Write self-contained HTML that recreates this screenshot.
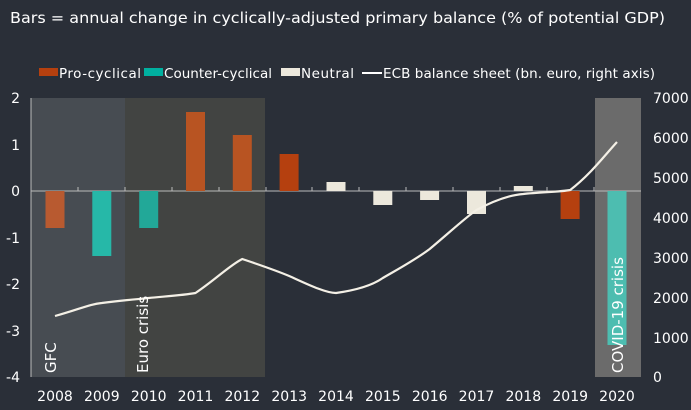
<!DOCTYPE html>
<html><head><meta charset="utf-8"><style>
html,body{margin:0;padding:0;background:#2a2f38;}
svg{display:block;font-family:"DejaVu Sans","Liberation Sans",sans-serif;}
</style></head><body>
<svg width="691" height="410" viewBox="0 0 691 410" xmlns="http://www.w3.org/2000/svg">
<rect width="691" height="410" fill="#2a2f38"/>
<text x="10" y="23" fill="#fff" font-size="15.5" textLength="655" lengthAdjust="spacingAndGlyphs">Bars = annual change in cyclically-adjusted primary balance (% of potential GDP)</text>
<!-- legend -->
<rect x="39" y="68" width="19" height="8" fill="#b5400f"/>
<text x="59" y="78" fill="#fff" font-size="13.5" textLength="82">Pro-cyclical</text>
<rect x="144" y="68" width="19" height="8" fill="#00b0a0"/>
<text x="164" y="78" fill="#fff" font-size="13.5" textLength="108">Counter-cyclical</text>
<rect x="281" y="68" width="19" height="8" fill="#ece8dc"/>
<text x="301" y="78" fill="#fff" font-size="13.5" textLength="53">Neutral</text>
<line x1="362" y1="73" x2="382" y2="73" stroke="#fff" stroke-width="2"/>
<text x="383" y="78" fill="#fff" font-size="13.5" textLength="272">ECB balance sheet (bn. euro, right axis)</text>
<!-- shaded regions -->
<rect x="31" y="98" width="94" height="279" fill="#474c52"/>
<rect x="125" y="98" width="140" height="279" fill="#424442"/>
<rect x="595" y="98" width="46" height="279" fill="#6b6b6b"/>
<!-- zero axis -->
<line x1="31" y1="191" x2="641" y2="191" stroke="#bbb" stroke-width="1"/>
<g stroke="#bbb" stroke-width="1">
<line x1="78" y1="187" x2="78" y2="191"/><line x1="125" y1="187" x2="125" y2="191"/>
<line x1="172" y1="187" x2="172" y2="191"/><line x1="219" y1="187" x2="219" y2="191"/>
<line x1="266" y1="187" x2="266" y2="191"/><line x1="312" y1="187" x2="312" y2="191"/>
<line x1="359" y1="187" x2="359" y2="191"/><line x1="406" y1="187" x2="406" y2="191"/>
<line x1="453" y1="187" x2="453" y2="191"/><line x1="500" y1="187" x2="500" y2="191"/>
<line x1="547" y1="187" x2="547" y2="191"/><line x1="594" y1="187" x2="594" y2="191"/>
</g>
<line x1="31" y1="98" x2="31" y2="377" stroke="#bbb" stroke-width="1"/>
<!-- bars -->
<rect x="45.5" y="191" width="19" height="37" fill="#b85a30"/>
<rect x="92.3" y="191" width="19" height="65" fill="#26b8a8"/>
<rect x="139.2" y="191" width="19" height="37" fill="#22a898"/>
<rect x="186" y="112" width="19" height="79" fill="#b85422"/>
<rect x="232.8" y="135" width="19" height="56" fill="#b85422"/>
<rect x="279.6" y="154" width="19" height="37" fill="#b5400f"/>
<rect x="326.5" y="182" width="19" height="9" fill="#ece8dc"/>
<rect x="373.3" y="191" width="19" height="14" fill="#ece8dc"/>
<rect x="420.1" y="191" width="19" height="9" fill="#ece8dc"/>
<rect x="467" y="191" width="19" height="23" fill="#ece8dc"/>
<rect x="513.8" y="186" width="19" height="5" fill="#ece8dc"/>
<rect x="560.6" y="191" width="19" height="28" fill="#b5400f"/>
<rect x="607.5" y="191" width="19" height="154" fill="#4dbdb0"/>
<!-- line -->
<path fill="none" stroke="#f4f0e6" stroke-width="2.2" stroke-linejoin="round" d="M55,316 C80,309 90,304 101.8,303 C125,300 140,299 148.7,298 C170,296 185,295 195.5,293 C215,280 230,265 242.3,259 C260,265 275,270 289.2,276 C305,283 325,293 336,293 C350,291 370,287 382.8,278 C400,268 415,260 429.7,249 C450,232 465,218 476.5,210 C495,200 510,195 523.3,194 C540,192 560,192 570.2,190 C590,175 605,155 617,142"/>
<!-- rotated labels -->
<text transform="translate(56,373) rotate(-90)" fill="#fff" font-size="15">GFC</text>
<text transform="translate(148,373) rotate(-90)" fill="#fff" font-size="15">Euro crisis</text>
<text transform="translate(623,373) rotate(-90)" fill="#fff" font-size="15">COVID-19 crisis</text>
<!-- left axis -->
<g fill="#fff" font-size="14" text-anchor="end">
<text x="20" y="103">2</text><text x="20" y="150">1</text><text x="20" y="196">0</text>
<text x="20" y="243">-1</text><text x="20" y="289">-2</text><text x="20" y="336">-3</text><text x="20" y="382">-4</text>
</g>
<g fill="#fff" font-size="14" text-anchor="start">
<text x="653" y="103">7000</text><text x="653" y="143">6000</text><text x="653" y="183">5000</text>
<text x="653" y="223">4000</text><text x="653" y="263">3000</text><text x="653" y="303">2000</text>
<text x="653" y="343">1000</text><text x="653" y="382">0</text>
</g>
<g fill="#fff" font-size="14" text-anchor="middle">
<text x="55" y="401">2008</text><text x="101.8" y="401">2009</text><text x="148.7" y="401">2010</text>
<text x="195.5" y="401">2011</text><text x="242.3" y="401">2012</text><text x="289.2" y="401">2013</text>
<text x="336" y="401">2014</text><text x="382.8" y="401">2015</text><text x="429.7" y="401">2016</text>
<text x="476.5" y="401">2017</text><text x="523.3" y="401">2018</text><text x="570.2" y="401">2019</text>
<text x="617" y="401">2020</text>
</g>
</svg>
</body></html>
